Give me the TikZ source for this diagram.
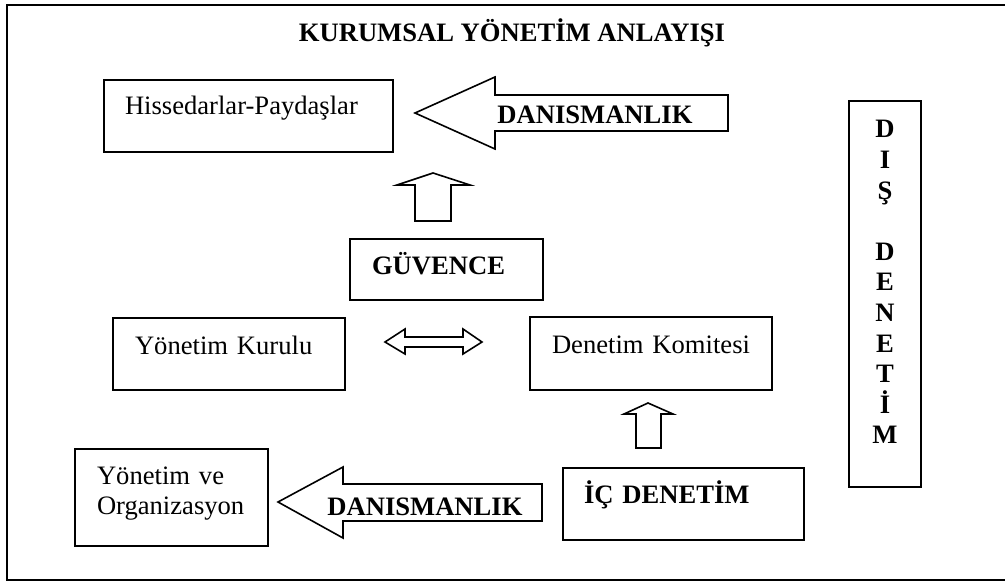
\documentclass[tikz,border=0pt]{standalone}
\usepackage{fontspec}
\setmainfont{Liberation Serif}
\usepackage{tikz}

\begin{document}
\begin{tikzpicture}[x=0.5pt, y=-0.5pt,
        kutu/.style={draw, line width=1pt, rectangle, anchor=north west, inner ysep=0pt, align=left, font=\fontsize{13.3}{15.4}\selectfont},
        blokok/.style={draw, line width=0.8pt, line join=miter},
        yazi/.style={font=\fontsize{13.3}{15.4}\selectfont\bfseries, inner sep=0pt, anchor=base west}]
        \useasboundingbox (0,0) rectangle (1005,582);
        % Cerceve
        \draw[line width=1pt] (1005,5) -- (7,5) -- (7,580) -- (1005,580);
        \node[yazi, anchor=base] (baslik) at (512,42) {KURUMSAL YÖNETİM ANLAYIŞI};
        
        % Kutular
        \node[kutu, inner xsep=10.5pt, text width=123.5pt, text height=17.5pt, text depth=18.5pt] (hissedar) at (103,79) {Hissedarlar-Paydaşlar};
        \node[kutu, inner xsep=11pt, text width=74.5pt, text height=18pt, text depth=12.5pt, font=\fontsize{13.3}{15.4}\selectfont\bfseries] (guvence) at (349,238) {GÜVENCE};
        \node[kutu, inner xsep=11pt, text width=94pt, text height=18pt, text depth=18pt] (kurul) at (112,317) {Yönetim Kurulu};
        \node[kutu, inner xsep=11pt, text width=99pt, text height=18pt, text depth=18.5pt] (komite) at (529,316) {Denetim Komitesi};
        \node[kutu, inner xsep=10.5pt, text width=99.5pt, text height=17.5pt, text depth=18.5pt, font=\fontsize{13.3}{15.4}\selectfont\bfseries] (icdenetim) at (562,467) {İÇ DENETİM};
        \node[kutu, inner xsep=11pt, text width=74.5pt, text height=17.5pt, text depth=31pt] (orgkutu) at (74,448) {Yönetim ve\\Organizasyon};
        \node[kutu, inner xsep=0pt, text width=36pt, align=center, text height=18.5pt, text depth=174.5pt, font=\fontsize{13.3}{15.3}\selectfont\bfseries] (disdenetim) at (848,100) {D\\I\\Ş\\[15.3pt]D\\E\\N\\E\\T\\İ\\M};
        
        % Blok oklar
        \draw[blokok] (415,113) -- (495,77) -- (495,95) -- (728,95) -- (728,131) -- (495,131) -- (495,149) -- cycle;
        \node[yazi] (danisust) at (497,124) {DANISMANLIK};
        \draw[blokok] (278,502) -- (343,467) -- (343,484) -- (542,484) -- (542,521) -- (343,521) -- (343,538) -- cycle;
        \node[yazi] (danisalt) at (327,515) {DANISMANLIK};
        \draw[blokok] (433,173) -- (470,185) -- (451,185) -- (451,221) -- (415,221) -- (415,185) -- (397,185) -- cycle;
        \draw[blokok] (648,403) -- (673,414) -- (661,414) -- (661,448) -- (636,448) -- (636,414) -- (624,414) -- cycle;
        \draw[blokok] (385,342) -- (405,329) -- (405,337) -- (463,337) -- (463,329) -- (482,342) -- (463,354) -- (463,347) -- (405,347) -- (405,354) -- cycle;
    \end{tikzpicture}
\end{document}
